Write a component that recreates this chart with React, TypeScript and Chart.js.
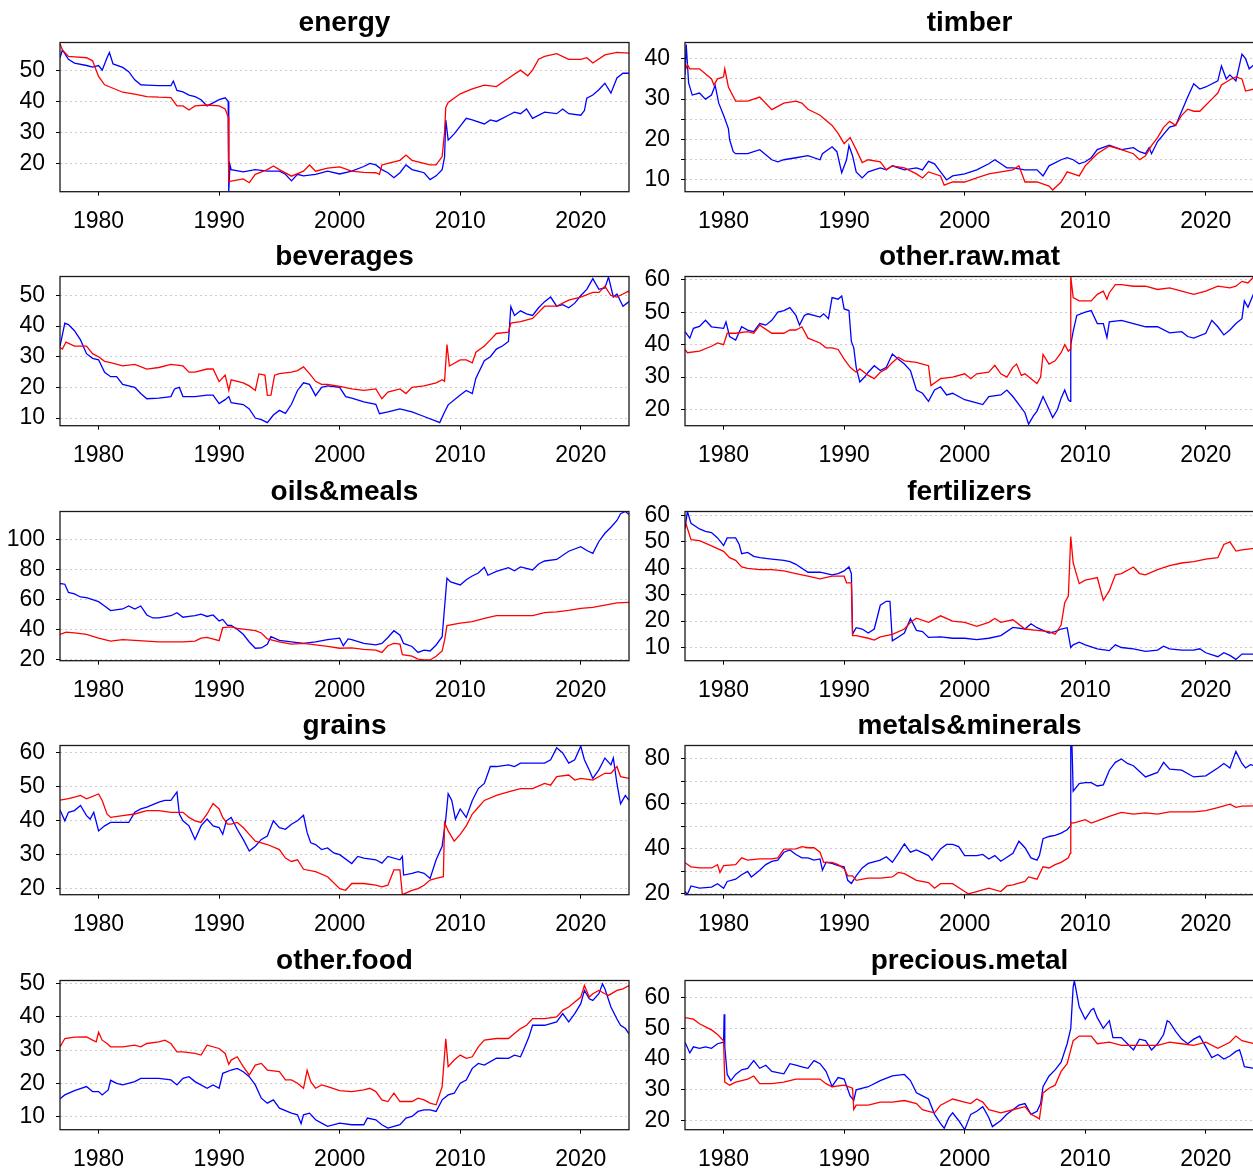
import React, { useEffect, useRef } from 'react';
import { Chart, registerables } from 'chart.js';
Chart.register(...registerables);

type Pt = [number, number];

const xTicks = [1980, 1990, 2000, 2010, 2020];
const xMin = 1976.8;
const xMax = 2024.0;

const energyRed: Pt[] = [[1976.8,58.5],[1977.0,56.5],[1977.5,54.4],[1978,54.3],[1979,54],[1979.5,53],[1980,48],[1980.5,45.3],[1981,44.5],[1982,42.9],[1983,42.3],[1984,41.5],[1985,41.3],[1986,41.2],[1986.5,38.5],[1987,38.5],[1987.5,37.2],[1988,38.5],[1989,38.8],[1990,38.5],[1990.5,37.5],[1990.75,35],[1990.8,14.1],[1991,14.3],[1992,15],[1992.5,13.8],[1993,16.5],[1994,18],[1994.5,19.2],[1995,18],[1996,15.9],[1997,17.5],[1997.5,19.5],[1998,17.5],[1999,18.5],[2000,18.9],[2001,17.5],[2002,17.1],[2003,17],[2003.3,16.5],[2003.5,19.5],[2004,20],[2005,21],[2005.5,22.7],[2006,21],[2007,20],[2007.5,19.5],[2008,19.5],[2008.5,22.2],[2008.7,30],[2008.8,38],[2009,39.6],[2010,42.4],[2011,44],[2012,45.2],[2013,44.7],[2014,47.4],[2015,50],[2015.6,48.2],[2016,50],[2016.5,53.5],[2017,54.4],[2018,55.3],[2019,53.5],[2020,53.5],[2020.5,54],[2021,52.3],[2022,54.9],[2023,55.7],[2024,55.5]];
const energyBlue: Pt[] = [[1976.8,54],[1977,56.5],[1977.5,53.5],[1978,52.3],[1979,51.5],[1979.5,51],[1980,51.5],[1980.3,50],[1980.7,54],[1980.9,55.7],[1981.2,52],[1982,50.9],[1982.5,49.5],[1983,46.9],[1983.5,45.3],[1984,45.2],[1985,45],[1986,45],[1986.2,46.5],[1986.5,43.5],[1987,43],[1987.5,42],[1988,41.5],[1988.5,40.5],[1989,38.5],[1989.5,39.5],[1990,40.5],[1990.5,41.1],[1990.75,40],[1990.8,11],[1990.9,19.5],[1991,18],[1992,17.3],[1993,18],[1994,17.5],[1995,17.5],[1995.5,16.5],[1996,14.4],[1996.5,16.5],[1997,16],[1998,16.5],[1999,17.5],[2000,16.6],[2001,17.5],[2002,19],[2002.5,20],[2003,19.5],[2003.5,18],[2004,17],[2004.5,15.4],[2005,17],[2005.5,19.5],[2006,18],[2006.5,17.5],[2007,17],[2007.5,14.8],[2008,16],[2008.5,18],[2008.7,22],[2008.8,34],[2009,27.5],[2009.5,29.5],[2010,32],[2010.5,34.5],[2011,34],[2012,32.7],[2012.5,34],[2013,33.5],[2014,35.5],[2014.5,36.5],[2015,36],[2015.5,37.5],[2016,34.5],[2017,36.5],[2018,36],[2018.5,37.5],[2019,36],[2020,35.5],[2020.3,37],[2020.5,41],[2021,42],[2021.5,43.7],[2022,45.8],[2022.5,42.6],[2023,47.5],[2023.5,49],[2024,49]];

const timberRed: Pt[] = [[1976.8,37],[1977,38.5],[1977.2,37.5],[1978,37.5],[1979,35],[1979.2,33.5],[1979.5,35],[1980,35.5],[1980.1,37.5],[1980.4,33],[1981,29.5],[1982,29.5],[1983,30.5],[1984,27.4],[1985,29],[1986,29.5],[1986.5,29],[1987,27.5],[1988,26],[1989,23.5],[1989.5,21.5],[1990,19],[1990.5,20.5],[1991,17.5],[1991.5,14.3],[1992,15],[1993,14.5],[1993.5,12.5],[1994,13.5],[1995,13],[1996,11.5],[1996.5,10.5],[1997,12],[1998,11],[1998.3,8.7],[1999,9.5],[2000,9.5],[2001,10.5],[2002,11.5],[2003,12],[2004,12.5],[2004.5,13.5],[2005,9.5],[2006,9.5],[2007,8.5],[2007.3,7.5],[2008,9.5],[2008.5,12],[2009,11.5],[2009.5,11],[2010,13.5],[2010.5,15],[2011,16.5],[2012,18.4],[2013,17.5],[2014,16.5],[2014.5,15],[2015,16],[2015.5,18.5],[2016,20.5],[2016.5,23],[2017,24.5],[2017.5,23.5],[2018,26],[2018.5,27.5],[2019,27],[2019.5,27],[2020,28.5],[2020.5,30],[2021,31.5],[2021.3,33.5],[2022,34.8],[2022.5,35.5],[2023,35],[2023.3,32],[2024,32.5]];
const timberBlue: Pt[] = [[1976.8,36],[1976.9,43.5],[1977.1,34],[1977.4,31],[1978,31.5],[1978.5,30],[1979,31],[1979.3,33.4],[1979.6,29],[1980,26],[1980.4,22.7],[1980.5,20],[1980.8,17],[1981,16.5],[1982,16.5],[1983,17.5],[1984,15],[1984.5,14.5],[1985,15],[1986,15.5],[1987,16],[1988,15],[1988.2,16.5],[1989,18.2],[1989.4,17],[1989.8,11.8],[1990.2,15],[1990.4,18.5],[1990.7,16],[1991,12],[1991.5,10.5],[1992,12],[1993,13],[1993.5,12.5],[1994,13.5],[1995,12.5],[1996,13],[1996.5,12.5],[1997,14.6],[1997.5,14],[1998,12],[1998.5,10],[1999,11],[2000,11.5],[2001,12.5],[2002,14],[2002.5,15],[2003,14],[2003.5,13],[2004,13],[2005,12.5],[2006,12.5],[2006.5,11],[2007,13.5],[2008,15],[2008.5,15.5],[2009,15],[2009.5,14],[2010,14.5],[2010.5,15.5],[2011,17.5],[2012,18.6],[2013,17.5],[2014,18],[2014.5,17],[2015,16.5],[2015.3,18],[2015.5,16.5],[2016,19.5],[2017,23.1],[2017.5,23.5],[2018,27],[2018.5,30.5],[2019,33.8],[2019.5,32.5],[2020,33],[2021,34.5],[2021.3,38.2],[2021.7,35],[2022,36],[2022.5,34.5],[2023,41.1],[2023.3,40],[2023.6,37.5],[2024,38.5]];

const bevRed: Pt[] = [[1976.8,33],[1977,32.5],[1977.3,34.8],[1978,33.5],[1979,33.5],[1979.5,31],[1980,30],[1980.5,28.5],[1981,28.1],[1982,27],[1983,27.5],[1984,26],[1985,26.5],[1986,27.5],[1987,27],[1987.5,25],[1988,25],[1989,26],[1989.5,26],[1990,21.9],[1990.5,24],[1990.8,19],[1991,22.5],[1992,21.5],[1992.5,20.5],[1993,19],[1993.3,24.4],[1993.8,24],[1994,17.4],[1994.3,17.5],[1994.6,24],[1995,24.5],[1996,25],[1996.5,25.5],[1997,26.7],[1997.5,24.5],[1998,22],[1998.5,21],[1999,21],[2000,20.3],[2001,19.5],[2002,19],[2003,19.5],[2003.5,16.3],[2004,18.5],[2005,19.5],[2005.5,18],[2006,20],[2007,20.5],[2008,21.5],[2008.5,22.5],[2008.7,22],[2008.9,34],[2009.1,27],[2010,29],[2010.5,29],[2011,28],[2011.3,31.5],[2012,33.5],[2012.5,35.5],[2013,37.6],[2014,38],[2014.2,41],[2015,41.5],[2016,42.5],[2016.5,44.5],[2017,46.5],[2018,46.5],[2018.5,47.5],[2019,48.5],[2020,49.5],[2021,51],[2021.5,51],[2022,53],[2022.5,50],[2023,49.5],[2023.5,50.5],[2024,51.5]];
const bevBlue: Pt[] = [[1976.8,33.5],[1977.2,41],[1977.5,40.5],[1978,38.5],[1978.5,35.5],[1979,31],[1979.5,29.5],[1980,29],[1980.5,24.9],[1981,23.5],[1981.5,23.5],[1982,21],[1983,20],[1983.5,18],[1984,16.3],[1985,16.5],[1986,17],[1986.3,19.5],[1986.7,20],[1987,17],[1988,17],[1989,17.5],[1989.5,17.5],[1990,14.7],[1990.5,16],[1990.8,17],[1991,15],[1992,14.4],[1992.5,13],[1993,10],[1993.5,9.5],[1994,8.5],[1994.5,11],[1995,12.5],[1995.5,11.5],[1996,14.5],[1996.5,19],[1997,21.5],[1997.5,21],[1998,17.3],[1998.5,20],[1999,20.5],[2000,20],[2000.5,17],[2001,16.5],[2002,15.3],[2003,14.5],[2003.3,11.4],[2004,12],[2005,13],[2006,12],[2007,10.5],[2008,9],[2008.3,8.5],[2008.7,12],[2009,14.3],[2010,17.5],[2010.5,19],[2011,18],[2011.3,23],[2012,28.7],[2012.5,30],[2013,32.5],[2013.5,33.5],[2014,35],[2014.2,46.4],[2014.5,43.5],[2015,45],[2015.5,44],[2016,43.5],[2016.5,46],[2017,48],[2017.5,49.5],[2018,46.5],[2018.5,47],[2019,46],[2019.5,47.5],[2020,50],[2020.5,52],[2021,55.5],[2021.5,52],[2022,52.5],[2022.3,56],[2022.7,49.5],[2023,50.5],[2023.5,46.5],[2024,48]];

const ormRed: Pt[] = [[1976.8,38.5],[1977,37.5],[1978,38],[1979,39.5],[1979.5,40.5],[1980,40],[1980.3,43.5],[1981,43.5],[1982,44],[1982.5,43.5],[1983,46],[1984,43.5],[1985,43.5],[1985.5,44.5],[1986,44.5],[1986.5,45.5],[1987,42],[1988,40.5],[1988.5,39],[1989,39],[1989.5,38.5],[1990,35.5],[1990.5,33],[1991,31.5],[1991.3,32.5],[1992,30.5],[1992.5,29.5],[1993,31.5],[1993.5,32.5],[1994,34.5],[1994.5,36.1],[1995,35],[1996,34.5],[1996.5,34],[1997,33.5],[1997.2,27.4],[1998,29.5],[1999,30],[2000,31],[2000.5,29.5],[2001,31],[2002,31.5],[2002.5,33.6],[2003,31],[2003.5,30],[2004,33],[2004.3,34],[2004.7,30.5],[2005,31],[2005.5,29.5],[2006,28],[2006.3,30],[2006.5,37],[2007,34],[2007.5,35],[2008,37.5],[2008.3,40],[2008.6,38],[2008.75,38.5],[2008.8,61],[2009,54.5],[2009.5,53.5],[2010,53.5],[2010.5,53.5],[2011,55.5],[2011.5,56.5],[2011.8,54],[2012,56],[2012.5,58.5],[2013,58.5],[2014,58],[2015,58],[2016,57],[2017,57.5],[2018,56.5],[2019,55.5],[2020,56.5],[2021,58],[2022,57.5],[2022.5,58],[2023,59.5],[2023.5,59],[2024,61]];
const ormBlue: Pt[] = [[1976.8,44],[1977.2,42],[1977.5,45],[1978,45.6],[1978.5,47.5],[1979,45.5],[1980,45],[1980.2,47],[1980.5,42.5],[1981,41.4],[1981.5,45.5],[1982,44.5],[1982.5,44],[1983,46.5],[1983.5,46],[1984,47.5],[1984.5,50],[1985,50.5],[1985.5,51.4],[1986,49],[1986.3,46],[1986.7,49],[1987,49.5],[1988,48.5],[1988.3,49.5],[1988.7,48],[1989,54.5],[1989.5,54],[1989.8,55],[1990,51],[1990.4,50.5],[1990.6,41],[1990.8,39],[1991,33],[1991.3,28.5],[1991.7,30],[1992,31.5],[1992.5,33.5],[1993,32],[1993.5,33],[1994,37.1],[1994.5,35.5],[1995,34],[1995.5,32],[1996,26],[1996.5,25],[1997,22.5],[1997.5,26],[1998,27],[1998.5,24.5],[1999,25],[2000,23],[2001,22],[2001.5,21.5],[2002,24],[2003,24.5],[2003.5,26],[2004,24],[2004.5,21.5],[2005,19],[2005.3,15.5],[2005.7,18],[2006,19.5],[2006.5,24],[2007,20],[2007.3,17.5],[2007.7,20],[2008,23.5],[2008.3,26],[2008.6,23],[2008.75,22.5],[2008.8,40],[2009,44.1],[2009.3,49],[2010,50],[2010.5,50.5],[2011,46.5],[2011.5,46.5],[2011.8,42.2],[2012,47],[2013,47.5],[2014,46.5],[2015,45.5],[2016,45.5],[2017,43.6],[2018,44],[2018.5,42.5],[2019,42],[2020,43.5],[2020.5,47.5],[2021,45.5],[2021.5,43],[2022,44.5],[2022.5,46.5],[2023,48],[2023.2,53.5],[2023.5,51.5],[2024,56]];

const oilsRed: Pt[] = [[1976.8,37],[1977.3,38.5],[1978,38],[1979,37],[1980,34.5],[1981,32.5],[1982,33.5],[1983,33],[1984,32.5],[1985,32],[1986,32],[1987,32],[1988,32.5],[1988.5,34.5],[1989,35],[1990,32.9],[1990.3,41.5],[1991,42],[1991.5,41],[1992,40.5],[1993,39.5],[1993.5,38],[1994,34],[1995,32],[1996,30.5],[1997,31],[1998,30],[1999,29],[2000,27.8],[2001,28],[2002,27],[2003,26.5],[2003.5,25],[2004,29.5],[2004.5,31],[2005,30.5],[2005.2,23.5],[2006,22.5],[2006.5,20.5],[2007,20],[2007.5,20],[2008,22.5],[2008.5,26],[2008.7,33],[2008.9,42.9],[2010,44.5],[2011,45.5],[2012,47.8],[2013,49.6],[2014,49.5],[2015,49.5],[2016,49.5],[2017,51.5],[2018,52],[2019,53],[2020,54.4],[2021,55],[2022,56.5],[2023,58],[2024,58.4]];
const oilsBlue: Pt[] = [[1976.8,71],[1977.2,70.5],[1977.5,65],[1978,64],[1978.5,62],[1979,61.5],[1980,58.9],[1980.5,56],[1981,52.9],[1982,54],[1982.5,56],[1983,54],[1983.5,56],[1984,50],[1984.5,48],[1985,48],[1986,49.5],[1986.5,51.5],[1987,48.5],[1987.5,49],[1988,49.5],[1988.5,50.5],[1989,49],[1989.5,50],[1990,46],[1990.3,47],[1990.7,43],[1991,43],[1991.5,40.5],[1992,37.1],[1992.5,32],[1993,27.8],[1993.5,28],[1994,30.5],[1994.3,35.5],[1995,33],[1996,32],[1997,31],[1998,32],[1999,33.5],[2000,34.5],[2000.3,29.5],[2000.7,34],[2001,33.5],[2002,31],[2003,30],[2003.5,31],[2004,35],[2004.5,39.5],[2005,36.5],[2005.3,31],[2006,29],[2006.5,25],[2007,26.5],[2007.5,26],[2008,30],[2008.5,35.5],[2008.7,55],[2008.9,74.5],[2009.2,72],[2010,70],[2010.5,73.5],[2011,76],[2011.5,78],[2012,81.8],[2012.3,76.5],[2013,79],[2014,81.5],[2014.5,79.5],[2015,82],[2016,80],[2016.5,84],[2017,86],[2018,87],[2019,92.5],[2020,95.5],[2020.5,93],[2021,91.1],[2021.5,99],[2022,104.5],[2022.5,108.5],[2023,113],[2023.3,117.5],[2023.7,119],[2024,117]];

const fertRed: Pt[] = [[1976.8,58],[1977.3,50.8],[1978,50.5],[1979,48.5],[1980,46.4],[1980.5,44],[1981,43],[1981.5,40.5],[1982,40],[1983,39.5],[1984,39.5],[1985,39],[1986,38],[1987,37],[1988,36],[1989,37],[1990,37],[1990.2,34.5],[1990.6,34.5],[1990.7,14.5],[1991,14.5],[1992,13.5],[1992.5,12.8],[1993,14],[1994,15],[1995,17],[1995.5,19.5],[1996,21.1],[1997,19.5],[1998,22],[1999,20],[2000,19.5],[2001,18],[2002,19.5],[2002.5,21],[2003,19.5],[2004,20.5],[2005,17],[2006,16.5],[2007,16],[2007.5,15],[2008,18.5],[2008.3,27],[2008.6,29.5],[2008.8,52],[2009,42],[2009.5,34.2],[2010,35.5],[2010.5,36],[2011,36.5],[2011.5,27.9],[2012,31.5],[2012.5,37.5],[2013,38],[2014,40.5],[2014.5,38],[2015,37.5],[2016,39.5],[2017,41],[2018,42],[2019,42.5],[2020,43.5],[2021,44],[2021.5,49],[2022,50],[2022.5,46.5],[2023,47],[2024,47.5]];
const fertBlue: Pt[] = [[1976.8,55],[1977,61.5],[1977.3,57],[1978,54.9],[1978.5,54],[1979,53.5],[1979.5,51.5],[1980,48.6],[1980.3,51.5],[1981,51.5],[1981.3,49],[1981.5,45.5],[1982,46],[1982.5,44.5],[1983,44],[1984,43.5],[1985,43],[1985.5,42.5],[1986,41.5],[1987,38.5],[1988,38.5],[1989,37.5],[1989.5,38],[1990,39],[1990.4,40.5],[1990.6,38],[1990.7,15.1],[1991,17.5],[1991.5,17],[1992,15.5],[1992.5,17],[1993,26],[1993.5,27.5],[1993.8,27.5],[1994,12.5],[1994.5,14],[1995,15.5],[1995.5,21],[1996,16.5],[1996.5,16],[1997,13.8],[1998,14],[1999,13.5],[2000,13.5],[2001,13],[2002,13.5],[2003,14.5],[2004,17.6],[2005,17],[2005.5,19],[2006,17.5],[2007,15.5],[2007.5,16],[2008,17],[2008.5,17.5],[2008.8,10],[2009,11],[2009.5,12],[2010,11],[2011,9.5],[2012,8.8],[2012.5,11],[2013,10],[2014,9.5],[2015,8.5],[2016,9],[2016.5,10.5],[2017,9.5],[2018,9],[2019,9],[2019.5,9.5],[2020,8],[2021,6.5],[2021.5,8],[2022,7],[2022.5,5.5],[2023,7.5],[2024,7.5]];

const grainsRed: Pt[] = [[1976.8,46.1],[1977.5,46.5],[1978,47],[1978.5,47.5],[1979,46.5],[1980,47.9],[1980.3,46],[1980.7,42],[1981,41],[1982,41.5],[1983,42],[1984,43],[1985,43],[1986,42.5],[1987,42.5],[1987.5,41],[1988,40],[1988.5,39.5],[1989,42],[1989.5,45.1],[1990,43.5],[1990.3,41],[1990.7,39],[1991,39],[1991.5,39.5],[1992,38],[1992.5,36],[1993,34],[1993.5,33.5],[1994,33],[1995,31.5],[1995.5,29],[1996,28],[1996.5,28.5],[1997,25.7],[1998,25],[1999,23.5],[2000,20],[2000.5,19.5],[2001,21.5],[2002,21.5],[2003,21],[2003.5,20.5],[2004,21],[2004.5,25.5],[2005,25.5],[2005.2,18.2],[2006,19.5],[2006.5,20],[2007,21],[2007.5,22.5],[2008,23],[2008.6,23.5],[2008.7,39.5],[2009,37],[2009.5,34],[2010,36],[2010.5,38.5],[2011,42],[2011.5,44],[2012,46],[2013,47.5],[2014,48.5],[2015,49.5],[2016,49.5],[2017,51],[2017.5,50.5],[2018,53],[2019,53.5],[2019.5,52],[2020,52.5],[2021,52],[2022,54],[2022.5,54],[2023,56],[2023.3,53],[2024,52.5]];
const grainsBlue: Pt[] = [[1976.8,43.2],[1977.2,40],[1977.5,42.5],[1978,43],[1978.5,44.5],[1979,41.5],[1979.3,40.5],[1979.6,42.5],[1980,37],[1980.5,38.5],[1981,39.5],[1982,39.5],[1982.5,39.5],[1983,42.5],[1983.5,43.5],[1984,44],[1985,45.5],[1985.5,46],[1986,46],[1986.5,48.5],[1986.7,42],[1987,40],[1987.5,38.5],[1988,34.5],[1988.5,38.5],[1989,40.5],[1989.5,38.5],[1990,38],[1990.3,36],[1990.6,40],[1991,41],[1991.5,37.5],[1992,34.5],[1992.5,31.1],[1993,32.5],[1993.5,34.5],[1994,35.5],[1994.5,40],[1995,38],[1995.5,37.5],[1996,39],[1996.5,40],[1997,41.6],[1997.3,36.5],[1997.6,33.5],[1998,33],[1998.5,31.5],[1999,32],[1999.5,30.5],[2000,30],[2001,27.4],[2001.5,29.5],[2002,29],[2003,28.5],[2003.5,27.5],[2004,29.5],[2005,28.5],[2005.2,29.5],[2005.3,24],[2006,24.5],[2006.5,25],[2007,24.5],[2007.5,23],[2008,28.5],[2008.5,32.5],[2008.8,40.5],[2009,48],[2009.3,46],[2009.6,40.5],[2010,43.5],[2010.5,41],[2011,46],[2011.5,49.5],[2012,51],[2012.5,56],[2013,56],[2014,56.5],[2014.5,56],[2015,57],[2016,57],[2017,57],[2017.5,58],[2018,61.5],[2018.5,60],[2019,57],[2019.5,58],[2020,62],[2020.3,58],[2020.7,55],[2021,52.5],[2021.5,55],[2022,58.5],[2022.5,56.5],[2022.7,58.5],[2023,51],[2023.3,45],[2023.7,47.5],[2024,46]];

const metalsRed: Pt[] = [[1976.8,33.8],[1977.3,32],[1978,31.5],[1979,31.5],[1979.5,33],[1979.7,29.5],[1980,32.5],[1981,33],[1981.5,36],[1982,35],[1983,35.5],[1984,35.5],[1984.5,36],[1985,39.9],[1986,40],[1986.5,41],[1987,40.5],[1987.5,40.5],[1988,38.5],[1988.3,34],[1989,34],[1989.5,33],[1990,31.2],[1990.3,28],[1990.7,28],[1991,26],[1992,27],[1993,27],[1994,27.5],[1994.5,29.5],[1995,29],[1996,26],[1997,25],[1997.5,22.5],[1998,24.5],[1999,24.5],[2000,21],[2000.3,20],[2001,21],[2002,22.5],[2003,21],[2003.5,23.5],[2004,24],[2005,25.5],[2005.3,27.5],[2006,26.5],[2006.5,32],[2007,31.5],[2007.5,33],[2008,34],[2008.6,36],[2008.75,38],[2008.8,51.8],[2009,51.5],[2010,53],[2010.5,51.5],[2011,52.5],[2012,54.5],[2013,56.2],[2014,55.5],[2015,56],[2016,55.5],[2017,56.5],[2018,56.5],[2019,56.5],[2020,57],[2021,58.4],[2022,59.9],[2022.5,58.5],[2023,59],[2024,59.1]];
const metalsBlue: Pt[] = [[1976.8,21],[1977,19.8],[1977.3,23.5],[1978,22.5],[1979,23],[1979.5,24.5],[1980,22.5],[1980.3,25.5],[1981,26.5],[1981.5,28.5],[1982,30],[1982.3,27.5],[1983,30.5],[1983.5,33],[1984,34.4],[1984.5,35],[1985,38.5],[1985.5,39.5],[1986,37.5],[1986.5,36],[1987,36],[1987.5,35],[1988,35.5],[1988.2,30.5],[1988.5,34],[1989,33.5],[1989.5,32.5],[1990,32],[1990.3,26],[1990.6,24.6],[1991,28],[1991.5,31.5],[1992,33.5],[1993,35],[1993.5,36.5],[1994,34],[1994.5,38],[1995,42.2],[1995.5,38.5],[1996,39.5],[1997,37],[1997.3,35],[1998,40],[1998.5,42],[1999,42],[1999.5,41],[2000,37],[2001,37],[2001.5,37.5],[2002,35.5],[2002.5,37],[2003,34.5],[2004,38],[2004.5,43.4],[2005,40.5],[2005.5,36],[2006,35],[2006.2,37],[2006.5,44.5],[2007,45.5],[2007.5,46],[2008,47],[2008.5,48.5],[2008.75,50],[2008.8,86],[2008.9,86],[2009,65.7],[2009.5,69],[2010,69.5],[2010.5,69.5],[2011,68],[2011.5,68.5],[2012,75],[2012.5,78.5],[2013,80],[2013.5,78],[2014,77],[2015,72],[2016,74],[2016.5,78.5],[2017,75.5],[2018,75],[2019,72],[2020,72.5],[2021,76],[2021.5,78],[2022,76],[2022.5,83.4],[2023,78],[2023.3,76],[2023.7,77.5],[2024,77]];

const foodRed: Pt[] = [[1976.8,31],[1977.2,33.5],[1978,33.9],[1979,34],[1979.5,33],[1979.8,32.5],[1980,35.4],[1980.3,33],[1980.7,32],[1981,31],[1982,31],[1983,31.5],[1983.5,31],[1984,32],[1985,32.5],[1985.5,33],[1986,32],[1986.5,29.5],[1987,29.5],[1988,29],[1988.5,28.5],[1989,31.5],[1990,30.5],[1990.5,29],[1990.8,25.7],[1991,27],[1991.5,28],[1992,25],[1992.5,22.5],[1993,25.5],[1993.5,26],[1994,24],[1995,23.5],[1995.5,21],[1996,21],[1996.5,20],[1997,18.5],[1997.3,23.9],[1997.6,20.5],[1998,18.5],[1998.5,19.5],[1999,19],[2000,17.8],[2001,17.5],[2002,18],[2002.5,18.5],[2003,17.5],[2003.5,15],[2004,14.5],[2004.5,17],[2005,14.5],[2006,14.5],[2006.5,15.5],[2007,15],[2007.5,14],[2008,13.5],[2008.5,19],[2008.8,33.4],[2009,25],[2009.5,27],[2010,28.5],[2010.5,27.5],[2011,28],[2011.5,31],[2012,33],[2013,33.5],[2014,33.5],[2014.5,35],[2015,36.5],[2015.5,37.5],[2016,39.5],[2017,39.5],[2018,40],[2018.5,42],[2019,43],[2020,46],[2020.3,49.5],[2020.7,46],[2021,47],[2021.5,48],[2022,47],[2022.3,46.5],[2023,48],[2023.5,48.5],[2024,49.5]];
const foodBlue: Pt[] = [[1976.8,15.3],[1977.2,16.5],[1978,17.8],[1979,19],[1979.5,17.5],[1980,17.5],[1980.3,16.5],[1980.8,18],[1981,20.9],[1981.5,20],[1982,19.5],[1983,20.5],[1983.5,21.5],[1984,21.5],[1985,21.5],[1986,21],[1986.5,19.5],[1987,21.5],[1987.5,22],[1988,20.5],[1989,18.5],[1989.5,19.5],[1990,18.5],[1990.3,23],[1991,24],[1991.5,24.5],[1992,23.5],[1992.5,22],[1993,19.5],[1993.5,15.5],[1994,14],[1994.5,15],[1995,12.5],[1996,11],[1996.5,10.5],[1996.8,7.8],[1997,10.5],[1997.5,11],[1998,9],[1998.5,8],[1999,7],[2000,8],[2001,7.5],[2002,7.5],[2002.3,9.5],[2003,9],[2003.5,7.5],[2004,6.5],[2004.5,7],[2005,7.5],[2005.5,9.5],[2006,10],[2006.5,11.5],[2007,12],[2007.5,12],[2008,11.5],[2008.5,15],[2009,16.5],[2009.5,17],[2010,20],[2010.5,21],[2011,24.5],[2011.5,26],[2012,25.5],[2013,27.6],[2014,27.5],[2014.5,28.5],[2015,28],[2015.3,30.5],[2015.7,34],[2016,37.5],[2017,37.5],[2018,38.5],[2018.5,41],[2019,38.5],[2019.5,41],[2020,44],[2020.3,48],[2020.7,45.5],[2021,45],[2021.5,47],[2021.8,50],[2022,48.5],[2022.5,43],[2023,39.4],[2023.3,37.5],[2023.7,36.5],[2024,34.9]];

const preciousRed: Pt[] = [[1976.8,53.5],[1977.5,53],[1978,51.5],[1979,49.5],[1979.5,48],[1980,46],[1980.1,32.5],[1980.5,31.5],[1981,32.5],[1982,33.5],[1982.5,34.5],[1983,32],[1984,32],[1985,32.5],[1986,33.5],[1987,33.5],[1988,33.5],[1988.5,32],[1989,31],[1990,31.5],[1990.7,30.5],[1990.8,23.6],[1991,25],[1992,25],[1993,26],[1994,26],[1995,26.5],[1996,25.5],[1996.5,23.5],[1997,23],[1997.5,22.5],[1998,25],[1999,27],[2000,26],[2000.5,25.5],[2001,27],[2001.5,26],[2002,23.5],[2003,22.5],[2004,23.5],[2005,24.5],[2005.5,22],[2006,21],[2006.2,20.5],[2006.5,29],[2007,30.5],[2007.5,31.5],[2008,36],[2008.5,38.5],[2009,46],[2009.5,47.5],[2010,47.5],[2010.5,47.5],[2011,45],[2012,45.5],[2013,44.5],[2014,44.5],[2015,44.5],[2016,44.5],[2017,45.5],[2018,45],[2019,44.5],[2020,45.5],[2021,43.5],[2022,45.5],[2022.5,47.5],[2023,46],[2024,45]];
const preciousBlue: Pt[] = [[1976.8,45.5],[1977.2,42],[1977.5,44],[1978,43.5],[1978.5,44],[1979,43.5],[1979.5,45],[1980,45.5],[1980.05,54.6],[1980.1,44],[1980.3,35],[1980.6,33],[1981,35],[1981.5,36.5],[1982,37],[1982.5,39.5],[1983,37],[1983.5,38],[1984,36],[1985,35.2],[1985.5,38.5],[1986,38],[1986.5,37.5],[1987,37],[1987.5,39.5],[1988,38.5],[1988.5,36],[1989,31.1],[1989.5,34],[1990,33.5],[1990.5,28],[1990.8,26.6],[1991,30],[1992,31],[1993,33],[1994,34.5],[1995,35],[1995.5,33],[1996,29],[1996.5,28],[1997,27],[1997.5,22],[1998,19],[1998.3,17.5],[1998.7,21],[1999,22.5],[1999.5,20],[2000,17],[2000.5,22],[2001,23],[2001.5,24.5],[2002,21],[2002.3,18],[2003,20],[2003.5,22],[2004,23.5],[2004.5,25],[2005,25.5],[2005.5,22],[2006,23],[2006.3,25.5],[2006.5,31],[2007,34.5],[2007.5,36.5],[2008,39],[2008.5,45],[2008.8,50],[2009,63.5],[2009.1,65.5],[2009.5,57],[2010,53],[2010.5,56],[2010.7,56.5],[2011,53.5],[2011.5,50],[2012,52.5],[2012.3,47],[2013,47],[2013.5,45],[2014,43],[2014.5,46.5],[2015,46],[2015.5,43],[2016,45],[2016.5,48],[2016.8,52.5],[2017,52],[2017.5,49],[2018,46.5],[2018.5,45],[2019,46.5],[2019.5,47.5],[2020,44],[2020.5,40.5],[2021,41.5],[2021.5,40],[2022,41],[2022.5,42.5],[2022.8,43],[2023,40.5],[2023.2,37.5],[2024,37]];

const energyGrid = [20, 30, 40, 50];
const energyLabels = [20, 30, 40, 50];
const timberGrid = [10, 15, 20, 25, 30, 35, 40];
const timberLabels = [10, 20, 30, 40];
const bevGrid = [10, 20, 30, 40, 50];
const bevLabels = [10, 20, 30, 40, 50];
const ormGrid = [20, 30, 40, 50, 60];
const ormLabels = [20, 30, 40, 50, 60];
const oilsGrid = [20, 40, 60, 80, 100];
const oilsLabels = [20, 40, 60, 80, 100];
const fertGrid = [10, 20, 30, 40, 50, 60];
const fertLabels = [10, 20, 30, 40, 50, 60];
const grainsGrid = [20, 30, 40, 50, 60];
const grainsLabels = [20, 30, 40, 50, 60];
const metalsGrid = [20, 30, 40, 50, 60, 70, 80];
const metalsLabels = [20, 40, 60, 80];
const foodGrid = [10, 20, 30, 40, 50];
const foodLabels = [10, 20, 30, 40, 50];
const preciousGrid = [20, 30, 40, 50, 60];
const preciousLabels = [20, 30, 40, 50, 60];

interface PanelSpec {
  title: string;
  red: Pt[];
  blue: Pt[];
  yMin: number;
  yMax: number;
  grid: number[];
  labels: number[];
}

const panels: PanelSpec[] = [
  { title: 'energy', red: energyRed, blue: energyBlue, yMin: 10.9, yMax: 58.9, grid: energyGrid, labels: energyLabels },
  { title: 'timber', red: timberRed, blue: timberBlue, yMin: 7.1, yMax: 44, grid: timberGrid, labels: timberLabels },
  { title: 'beverages', red: bevRed, blue: bevBlue, yMin: 7.5, yMax: 56.2, grid: bevGrid, labels: bevLabels },
  { title: 'other.raw.mat', red: ormRed, blue: ormBlue, yMin: 15, yMax: 61, grid: ormGrid, labels: ormLabels },
  { title: 'oils&meals', red: oilsRed, blue: oilsBlue, yMin: 19.5, yMax: 119, grid: oilsGrid, labels: oilsLabels },
  { title: 'fertilizers', red: fertRed, blue: fertBlue, yMin: 5, yMax: 61.5, grid: fertGrid, labels: fertLabels },
  { title: 'grains', red: grainsRed, blue: grainsBlue, yMin: 18.2, yMax: 62.2, grid: grainsGrid, labels: grainsLabels },
  { title: 'metals&minerals', red: metalsRed, blue: metalsBlue, yMin: 19.6, yMax: 86, grid: metalsGrid, labels: metalsLabels },
  { title: 'other.food', red: foodRed, blue: foodBlue, yMin: 6, yMax: 51, grid: foodGrid, labels: foodLabels },
  { title: 'precious.metal', red: preciousRed, blue: preciousBlue, yMin: 17, yMax: 65.6, grid: preciousGrid, labels: preciousLabels },
];

const FONT = "'Liberation Sans', Arial, Helvetica, sans-serif";
const TITLE_SIZE = 28;
const TICK_SIZE = 23;
const ROW_TOPS = [0, 234, 469, 703, 938];
const PAGE_H = 1171;
const COL_LEFTS = [0, 625];
const CANVAS_W = 689;
const AXIS_W = 60;
const PAD_R = 60;
const PLOT_TOP = 42.5;
const PLOT_H = 149.2;
const TITLE_PAD_TOP = 6.8;

const boxPlugin = {
  id: 'plotBox',
  afterDatasetsDraw(chart: any) {
    const { ctx, chartArea: a } = chart;
    ctx.save();
    ctx.strokeStyle = '#1a1a1a';
    ctx.lineWidth = 1.3;
    ctx.setLineDash([]);
    ctx.strokeRect(a.left, a.top, a.right - a.left, a.bottom - a.top);
    ctx.restore();
  },
};

function makeChart(canvas: HTMLCanvasElement, spec: PanelSpec, canvasH: number) {
  const xAxisH = canvasH - PLOT_TOP - PLOT_H;
  const titleLine = TITLE_SIZE * 1.2;
  return new Chart(canvas, {
    type: 'line',
    data: {
      datasets: [
        {
          data: spec.red.map(([x, y]) => ({ x, y })),
          borderColor: '#ff0000',
          borderWidth: 1.3,
          pointRadius: 0,
          tension: 0,
          fill: false,
        },
        {
          data: spec.blue.map(([x, y]) => ({ x, y })),
          borderColor: '#0000ff',
          borderWidth: 1.3,
          pointRadius: 0,
          tension: 0,
          fill: false,
        },
      ],
    },
    options: {
      animation: false,
      responsive: false,
      maintainAspectRatio: false,
      devicePixelRatio: 1,
      events: [],
      layout: { padding: { left: 0, right: PAD_R, top: 0, bottom: 0 } },
      plugins: {
        legend: { display: false },
        tooltip: { enabled: false },
        title: {
          display: true,
          fullSize: false,
          text: spec.title,
          color: '#000',
          font: { family: FONT, size: TITLE_SIZE, weight: 'bold', lineHeight: 1.2 },
          padding: { top: TITLE_PAD_TOP, bottom: PLOT_TOP - TITLE_PAD_TOP - titleLine },
        },
      },
      scales: {
        x: {
          type: 'linear',
          min: xMin,
          max: xMax,
          afterBuildTicks: (s: any) => {
            s.ticks = xTicks.map((v) => ({ value: v }));
          },
          afterFit: (s: any) => {
            s.height = xAxisH;
          },
          ticks: {
            autoSkip: false,
            maxRotation: 0,
            minRotation: 0,
            padding: 12.5,
            color: '#000',
            font: { family: FONT, size: TICK_SIZE },
            callback: (v: any) => String(v),
          },
          grid: {
            drawOnChartArea: false,
            drawTicks: true,
            tickLength: 4,
            tickColor: '#000',
            tickWidth: 1,
            tickBorderDash: [],
          },
          border: { display: false },
        },
        y: {
          type: 'linear',
          min: spec.yMin,
          max: spec.yMax,
          afterBuildTicks: (s: any) => {
            s.ticks = spec.grid.map((v) => ({ value: v }));
          },
          afterFit: (s: any) => {
            s.width = AXIS_W;
          },
          ticks: {
            autoSkip: false,
            padding: 11,
            color: '#000',
            font: { family: FONT, size: TICK_SIZE },
            callback: (v: any) => (spec.labels.includes(Number(v)) ? String(v) : ''),
          },
          grid: {
            drawOnChartArea: true,
            drawTicks: true,
            color: '#cccccc',
            lineWidth: 1,
            tickLength: 4,
            tickColor: '#000',
            tickWidth: 1,
            tickBorderDash: [],
          },
          border: { display: false, dash: [2, 3] },
        },
      },
    } as any,
    plugins: [boxPlugin],
  });
}

function rowHeight(r: number) {
  return (r + 1 < ROW_TOPS.length ? ROW_TOPS[r + 1] : PAGE_H) - ROW_TOPS[r];
}

export default function App() {
  const refs = useRef<(HTMLCanvasElement | null)[]>([]);

  useEffect(() => {
    const charts: Chart[] = [];
    panels.forEach((spec, i) => {
      const c = refs.current[i];
      if (!c) return;
      const r = Math.floor(i / 2);
      charts.push(makeChart(c, spec, rowHeight(r)));
    });
    return () => {
      charts.forEach((ch) => ch.destroy());
    };
  }, []);

  return (
    <div
      style={{
        position: 'fixed',
        left: 0,
        top: 0,
        width: 1253,
        height: PAGE_H,
        overflow: 'hidden',
        background: '#ffffff',
      }}
    >
      {panels.map((spec, i) => {
        const r = Math.floor(i / 2);
        const col = i % 2;
        const h = rowHeight(r);
        return (
          <canvas
            key={spec.title}
            ref={(el) => {
              refs.current[i] = el;
            }}
            width={CANVAS_W}
            height={h}
            style={{
              position: 'absolute',
              left: COL_LEFTS[col],
              top: ROW_TOPS[r],
              width: CANVAS_W,
              height: h,
            }}
          />
        );
      })}
    </div>
  );
}
